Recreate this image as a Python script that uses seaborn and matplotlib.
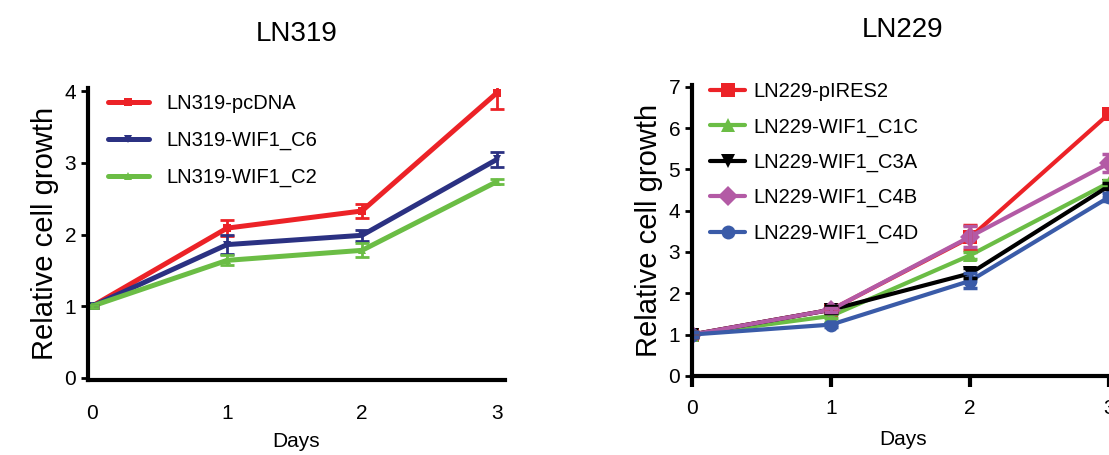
import pandas as pd
import matplotlib.pyplot as plt
import seaborn as sns

# Data
days = [0, 1, 2, 3]

ln319_names = ["LN319-pcDNA", "LN319-WIF1_C6", "LN319-WIF1_C2"]
ln319_means = [[1.0, 2.09, 2.33, 3.98],
               [1.0, 1.86, 1.99, 3.05],
               [1.0, 1.64, 1.78, 2.74]]
ln319_err = [[0.02, 0.11, 0.10, 0.23],
             [0.02, 0.13, 0.08, 0.10],
             [0.02, 0.07, 0.10, 0.03]]
ln319_colors = ["#ec2227", "#2b3182", "#6bbd45"]
ln319_markers = ["s", "v", "^"]

ln229_names = ["LN229-pIRES2", "LN229-WIF1_C1C", "LN229-WIF1_C3A",
               "LN229-WIF1_C4B", "LN229-WIF1_C4D"]
ln229_means = [[1.0, 1.60, 3.35, 6.35],
               [1.0, 1.45, 2.92, 4.68],
               [1.0, 1.60, 2.48, 4.60],
               [1.0, 1.60, 3.37, 5.15],
               [1.0, 1.24, 2.30, 4.33]]
ln229_err = [[0.05, 0.05, 0.30, 0.10],
             [0.05, 0.05, 0.08, 0.05],
             [0.05, 0.08, 0.12, 0.08],
             [0.05, 0.05, 0.25, 0.22],
             [0.05, 0.05, 0.18, 0.10]]
ln229_colors = ["#ec2227", "#6bbd45", "#000000", "#b35aa5", "#3a5ba8"]
ln229_markers = ["s", "^", "v", "D", "o"]


def long_df(names, means, errs):
    rows = []
    for n, m, e in zip(names, means, errs):
        for d, v, s in zip(days, m, e):
            rows.append({"Days": d, "growth": v, "err": s, "line": n})
    return pd.DataFrame(rows)


sns.set_style("ticks")
plt.rcParams["font.family"] = ["Liberation Sans", "DejaVu Sans"]
plt.rcParams["text.color"] = "black"
plt.rcParams["axes.labelcolor"] = "black"
plt.rcParams["axes.edgecolor"] = "black"
plt.rcParams["xtick.color"] = "black"
plt.rcParams["ytick.color"] = "black"

fig = plt.figure(figsize=(11.09, 4.55), dpi=100)
ax1 = fig.add_axes([0.0794, 0.165, 0.376, 0.642])
ax2 = fig.add_axes([0.624, 0.174, 0.38, 0.64])

# LN319 panel
df1 = long_df(ln319_names, ln319_means, ln319_err)
sns.lineplot(data=df1, x="Days", y="growth", hue="line", style="line",
             palette=ln319_colors, markers=ln319_markers, dashes=False,
             linewidth=3.6, markersize=6, markeredgewidth=0, ax=ax1)
for n, c in zip(ln319_names, ln319_colors):
    sub = df1[df1.line == n]
    ax1.errorbar(sub.Days, sub.growth, yerr=sub.err, fmt="none", ecolor=c,
                 elinewidth=2, capsize=5, capthick=2)
ax1.set_xlim(-0.03, 3.06)
ax1.set_ylim(-0.03, 4.05)
ax1.set_yticks([0, 1, 2, 3, 4])
ax1.set_xticks(days)
ax1.tick_params(axis="x", length=0, pad=17, labelsize=15)
ax1.tick_params(axis="y", length=5, width=2, labelsize=15)
ax1.set_xlabel("Days", fontsize=15, labelpad=7)
ax1.set_ylabel("Relative cell growth", fontsize=21)
ax1.set_title("LN319", fontsize=20, pad=34)
for sp in ["left", "bottom"]:
    ax1.spines[sp].set_linewidth(3)
sns.despine(ax=ax1)
ax1.legend(loc="upper left", bbox_to_anchor=(0.005, 1.04), frameon=False,
           fontsize=14.5, handlelength=2.0, labelspacing=0.88, handletextpad=0.9)

# LN229 panel
df2 = long_df(ln229_names, ln229_means, ln229_err)
sns.lineplot(data=df2, x="Days", y="growth", hue="line", style="line",
             palette=ln229_colors, markers=ln229_markers, dashes=False,
             linewidth=3, markersize=10, markeredgewidth=0, ax=ax2)
for n, c in zip(ln229_names, ln229_colors):
    sub = df2[df2.line == n]
    ax2.errorbar(sub.Days, sub.growth, yerr=sub.err, fmt="none", ecolor=c,
                 elinewidth=2.5, capsize=5, capthick=2.5)
ax2.set_xlim(0, 3.03)
ax2.set_ylim(0, 7.05)
ax2.set_yticks(range(0, 8))
ax2.set_xticks(days)
ax2.tick_params(axis="x", length=8, width=3, pad=9, labelsize=15)
ax2.tick_params(axis="y", length=5, width=2, labelsize=15)
ax2.set_xlabel("Days", fontsize=15, labelpad=8)
ax2.set_ylabel("Relative cell growth", fontsize=21)
ax2.set_title("LN229", fontsize=20, pad=34)
for sp in ["left", "bottom"]:
    ax2.spines[sp].set_linewidth(3)
sns.despine(ax=ax2)
ax2.legend(loc="upper left", bbox_to_anchor=(0.0, 1.07), frameon=False,
           fontsize=14.5, handlelength=1.75, labelspacing=0.8, handletextpad=0.4)

fig.savefig("out.png", dpi=100)
